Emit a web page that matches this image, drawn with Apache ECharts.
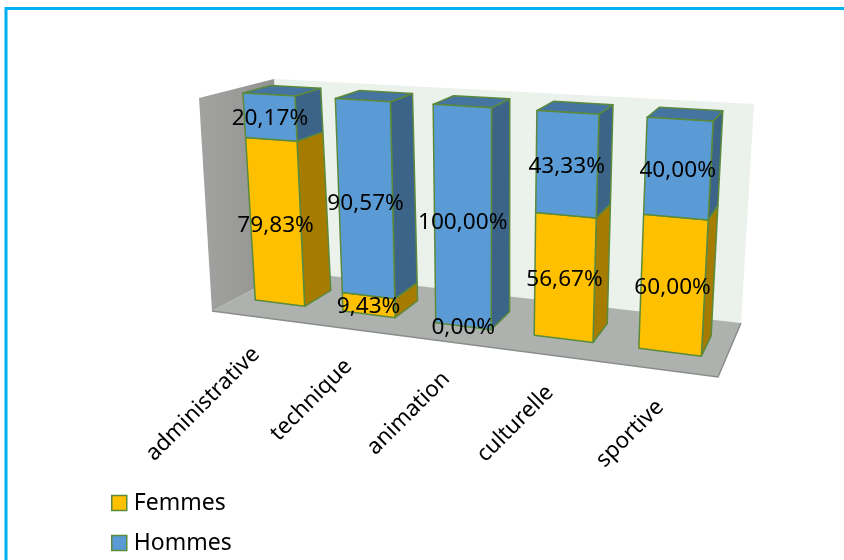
<!DOCTYPE html>
<html>
<head>
<meta charset="utf-8">
<style>html,body{margin:0;padding:0;background:#fff}#chart{width:844px;height:560px}</style>
<script src="https://cdn.jsdelivr.net/npm/echarts@6/dist/echarts.min.js"></script>
</head>
<body>
<div id="chart"></div>
<script>
// Répartition femmes / hommes par type d'activité, en pourcentage
const categories = ['administrative', 'technique', 'animation', 'culturelle', 'sportive'];
const femmes = [79.83, 9.43, 0, 56.67, 60];
const hommes = [20.17, 90.57, 100, 43.33, 40];

const FONT = '"Noto Sans", sans-serif';
const EDGE = '#5B8A3C';

// Corners of the 3D plot box on screen: floor, then ceiling (front-left, front-right, back-right, back-left)
const FLOOR = [[212, 311], [718, 377], [741, 323], [288, 271]];
const ROOF = [[199, 98], [731, 132], [754, 104], [274, 79]];
const PERSPECTIVE_X = 0.862;
const PERSPECTIVE_Y = 0.92;
const BAR_RATIO = 0.57;
const DEPTH_FRONT = 0.33;
const DEPTH_BACK = 0.71;

const warp = (p, k) => p * k / (1 + (k - 1) * p);

function bilinear(q, u, d) {
  return [0, 1].map(i =>
    q[0][i] + u * (q[1][i] - q[0][i]) + d * (q[3][i] - q[0][i]) +
    u * d * (q[0][i] - q[1][i] + q[2][i] - q[3][i]));
}

// t: position along the category axis, v: position along the value axis, d: depth (all 0..1)
function project(t, v, d) {
  const u = warp(t, PERSPECTIVE_X);
  const w = warp(v, PERSPECTIVE_Y);
  const a = bilinear(FLOOR, u, d);
  const b = bilinear(ROOF, u, d);
  return [a[0] + w * (b[0] - a[0]), a[1] + w * (b[1] - a[1])];
}

function toUnit(params, api, cat, val) {
  const cs = params.coordSys;
  const p = api.coord([cat, val]);
  return [(p[0] - cs.x) / cs.width, (cs.y + cs.height - p[1]) / cs.height, api.size([1, 0])[0] / cs.width];
}

const fmt = v => v.toFixed(2).replace('.', ',') + '%';

function segmentRenderer(front, side, top) {
  return function (params, api) {
    const cat = api.value(0), low = api.value(1), high = api.value(2);
    const [tc, v0, band] = toUnit(params, api, cat, low);
    const v1 = toUnit(params, api, cat, high)[1];
    const t0 = tc - band * BAR_RATIO / 2, t1 = tc + band * BAR_RATIO / 2;
    const children = [];
    const face = (pts, fill) => children.push({
      type: 'polygon', shape: { points: pts },
      style: { fill: fill, stroke: EDGE, lineWidth: 1.5, lineJoin: 'round' }, z2: 1
    });
    if (high > low) {
      face([project(t1, v0, DEPTH_FRONT), project(t1, v0, DEPTH_BACK),
            project(t1, v1, DEPTH_BACK), project(t1, v1, DEPTH_FRONT)], side);
      if (high >= 100) {
        face([project(t0, v1, DEPTH_FRONT), project(t1, v1, DEPTH_FRONT),
              project(t1, v1, DEPTH_BACK), project(t0, v1, DEPTH_BACK)], top);
      }
      face([project(t0, v0, DEPTH_FRONT), project(t1, v0, DEPTH_FRONT),
            project(t1, v1, DEPTH_FRONT), project(t0, v1, DEPTH_FRONT)], front);
    }
    const c = project(tc, (v0 + v1) / 2, DEPTH_FRONT);
    children.push({
      type: 'text', x: c[0], y: c[1] + 1.5, z2: 50, silent: true,
      style: { text: fmt(high - low), fill: '#000', font: '22.6px ' + FONT, align: 'center', verticalAlign: 'middle' }
    });
    return { type: 'group', children: children };
  };
}

function renderWalls() {
  return {
    type: 'group',
    children: [
      { type: 'polygon', shape: { points: [ROOF[3], ROOF[2], FLOOR[2], FLOOR[3]] }, style: { fill: '#EBF1EB' } },
      { type: 'polygon', shape: { points: [ROOF[0], ROOF[3], FLOOR[3], FLOOR[0]] },
        style: { fill: { type: 'linear', x: 0, y: 0, x2: 1, y2: 0,
          colorStops: [{ offset: 0, color: '#A2A3A1' }, { offset: 1, color: '#8F918E' }] } } },
      { type: 'polygon', shape: { points: FLOOR }, style: { fill: '#AEB2AE' } },
      { type: 'polyline', shape: { points: [FLOOR[0], FLOOR[1], FLOOR[2]] }, style: { stroke: '#8A8C8A', lineWidth: 1.5, fill: null } }
    ]
  };
}

function renderCategoryLabel(params, api) {
  const [t] = toUnit(params, api, api.value(0), 0);
  const p = project(t, 0, 0);
  return {
    type: 'text', x: p[0], y: p[1] + 34, rotation: Math.PI / 4,
    style: { text: categories[api.value(0)], fill: '#000', font: '22.4px ' + FONT, align: 'right', verticalAlign: 'middle' }
  };
}

const chart = echarts.init(document.getElementById('chart'), null, { renderer: 'canvas' });
chart.setOption({
  animation: false,
  backgroundColor: '#fff',
  graphic: [{
    type: 'rect', shape: { x: 6, y: 8.5, width: 900, height: 700 }, silent: true,
    style: { fill: null, stroke: '#00B0F0', lineWidth: 3 }
  }],
  legend: {
    orient: 'vertical', left: 106, top: 486, icon: 'rect', itemWidth: 15, itemHeight: 15, itemGap: 16, padding: [5, 5, 0, 5],
    data: ['Femmes', 'Hommes'], selectedMode: false,
    itemStyle: { borderColor: EDGE, borderWidth: 1.5 },
    textStyle: { fontFamily: FONT, fontSize: 23, color: '#000', lineHeight: 24, padding: [0, 0, 0, 2] }
  },
  grid: { left: 100, right: 100, top: 100, bottom: 200, show: false },
  xAxis: { type: 'category', data: categories, show: false },
  yAxis: { type: 'value', min: 0, max: 100, show: false },
  series: [
    { type: 'custom', name: 'walls', z: 1, silent: true, data: [[0]], renderItem: renderWalls, coordinateSystem: 'cartesian2d', encode: { x: 0 } },
    { type: 'custom', name: 'axis', z: 1, silent: true, data: categories.map((_, i) => [i]), renderItem: renderCategoryLabel, encode: { x: 0 } },
    { type: 'custom', name: 'Femmes', z: 2, silent: true,
      itemStyle: { color: '#FFC000', borderColor: EDGE, borderWidth: 1.5 },
      data: femmes.map((v, i) => [i, 0, v]), encode: { x: 0, y: [1, 2] },
      renderItem: segmentRenderer('#FFC000', '#A67C00', '#C49500') },
    { type: 'custom', name: 'Hommes', z: 2, silent: true,
      itemStyle: { color: '#5B9BD5', borderColor: EDGE, borderWidth: 1.5 },
      data: hommes.map((v, i) => [i, femmes[i], femmes[i] + v]), encode: { x: 0, y: [1, 2] },
      renderItem: segmentRenderer('#5B9BD5', '#3B6488', '#44749F') }
  ]
});
</script>
</body>
</html>
